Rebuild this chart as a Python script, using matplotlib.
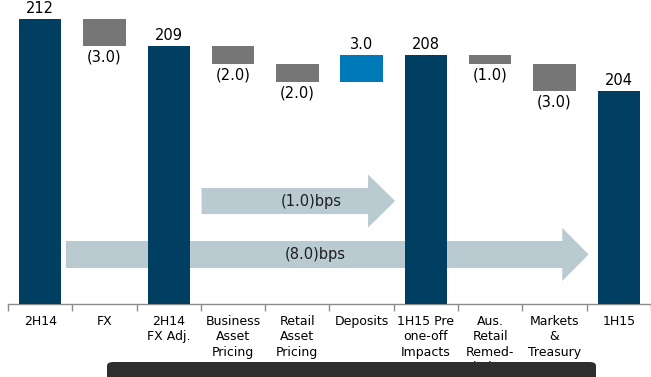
import matplotlib
matplotlib.use("Agg")
import matplotlib.pyplot as plt
from matplotlib.patches import FancyArrow, FancyBboxPatch

categories = ["2H14", "FX", "2H14\nFX Adj.", "Business\nAsset\nPricing", "Retail\nAsset\nPricing",
              "Deposits", "1H15 Pre\none-off\nImpacts", "Aus.\nRetail\nRemed-\niation",
              "Markets\n&\nTreasury", "1H15"]
values = [212, -3.0, 209, -2.0, -2.0, 3.0, 208, -1.0, -3.0, 204]
kinds = ["total", "delta", "total", "delta", "delta", "delta", "total", "delta", "delta", "total"]
arrow_labels = ["(1.0)bps", "(8.0)bps"]

NAVY = "#003F62"
GREY = "#767676"
BLUE = "#0079B9"
ARROW = "#B9CAD1"

W, H = 651, 377
fig = plt.figure(figsize=(W / 100, H / 100), dpi=100)
ax = fig.add_axes([8 / W, 73 / H, 643 / W, 304 / H])
ymin, ymax = 180.33, 214.1
ax.set_ylim(ymin, ymax)
ax.set_xlim(-0.5, 9.5 - 2 / 64.5)

# arrows (behind bars)
ax.add_patch(FancyArrow(0.40, 185.83, 8.53 - 0.40, 0, width=3.0, head_width=5.9,
                        head_length=0.41, length_includes_head=True, color=ARROW, lw=0, zorder=1))
ax.add_patch(FancyArrow(2.51, 191.77, 5.52 - 2.51, 0, width=2.9, head_width=5.9,
                        head_length=0.42, length_includes_head=True, color=ARROW, lw=0, zorder=1))
ax.text(4.21, 191.72, arrow_labels[0], ha="center", va="center", fontsize=10.5, color="#1E1E1E", zorder=4)
ax.text(4.28, 185.83, arrow_labels[1], ha="center", va="center", fontsize=10.5, color="#1E1E1E", zorder=4)

bw = 0.66
running = None
for i, (v, k) in enumerate(zip(values, kinds)):
    if k == "total":
        ax.bar(i, v - ymin, bottom=ymin, width=bw, color=NAVY, zorder=3)
        ax.text(i, v + 0.35, f"{v:.0f}", ha="center", va="bottom", fontsize=10.5, color="black")
        running = v
    else:
        lo, hi = (running + v, running) if v < 0 else (running, running + v)
        ax.bar(i, hi - lo, bottom=lo, width=bw, color=GREY if v < 0 else BLUE, zorder=3)
        if v < 0:
            ax.text(i, lo - 0.35, f"({abs(v):.1f})", ha="center", va="top", fontsize=10.5, color="black")
        else:
            ax.text(i, hi + 0.35, f"{v:.1f}", ha="center", va="bottom", fontsize=10.5, color="black")
        running += v

for s in ["top", "right", "left"]:
    ax.spines[s].set_visible(False)
ax.spines["bottom"].set_color("#8C8C8C")
ax.spines["bottom"].set_linewidth(1.0)
ax.set_yticks([])
ax.set_xticks(range(len(categories)))
ax.set_xticklabels(categories, fontsize=9, linespacing=1.22)
ax.tick_params(axis="x", which="major", length=0, pad=8)
ax.set_xticks([i - 0.5 for i in range(len(categories) + 1)], minor=True)
ax.tick_params(axis="x", which="minor", length=5, color="#8C8C8C", width=1.0)

# viewer toolbar overlay present in the screenshot
fig.patches.append(FancyBboxPatch((107 / W, -0.05), (596 - 107) / W, (377 - 362) / H + 0.05,
                                  boxstyle="round,pad=0,rounding_size=0.01", transform=fig.transFigure,
                                  facecolor="#2E2E2E", edgecolor="none", zorder=10))

fig.savefig("out.png", dpi=100)
